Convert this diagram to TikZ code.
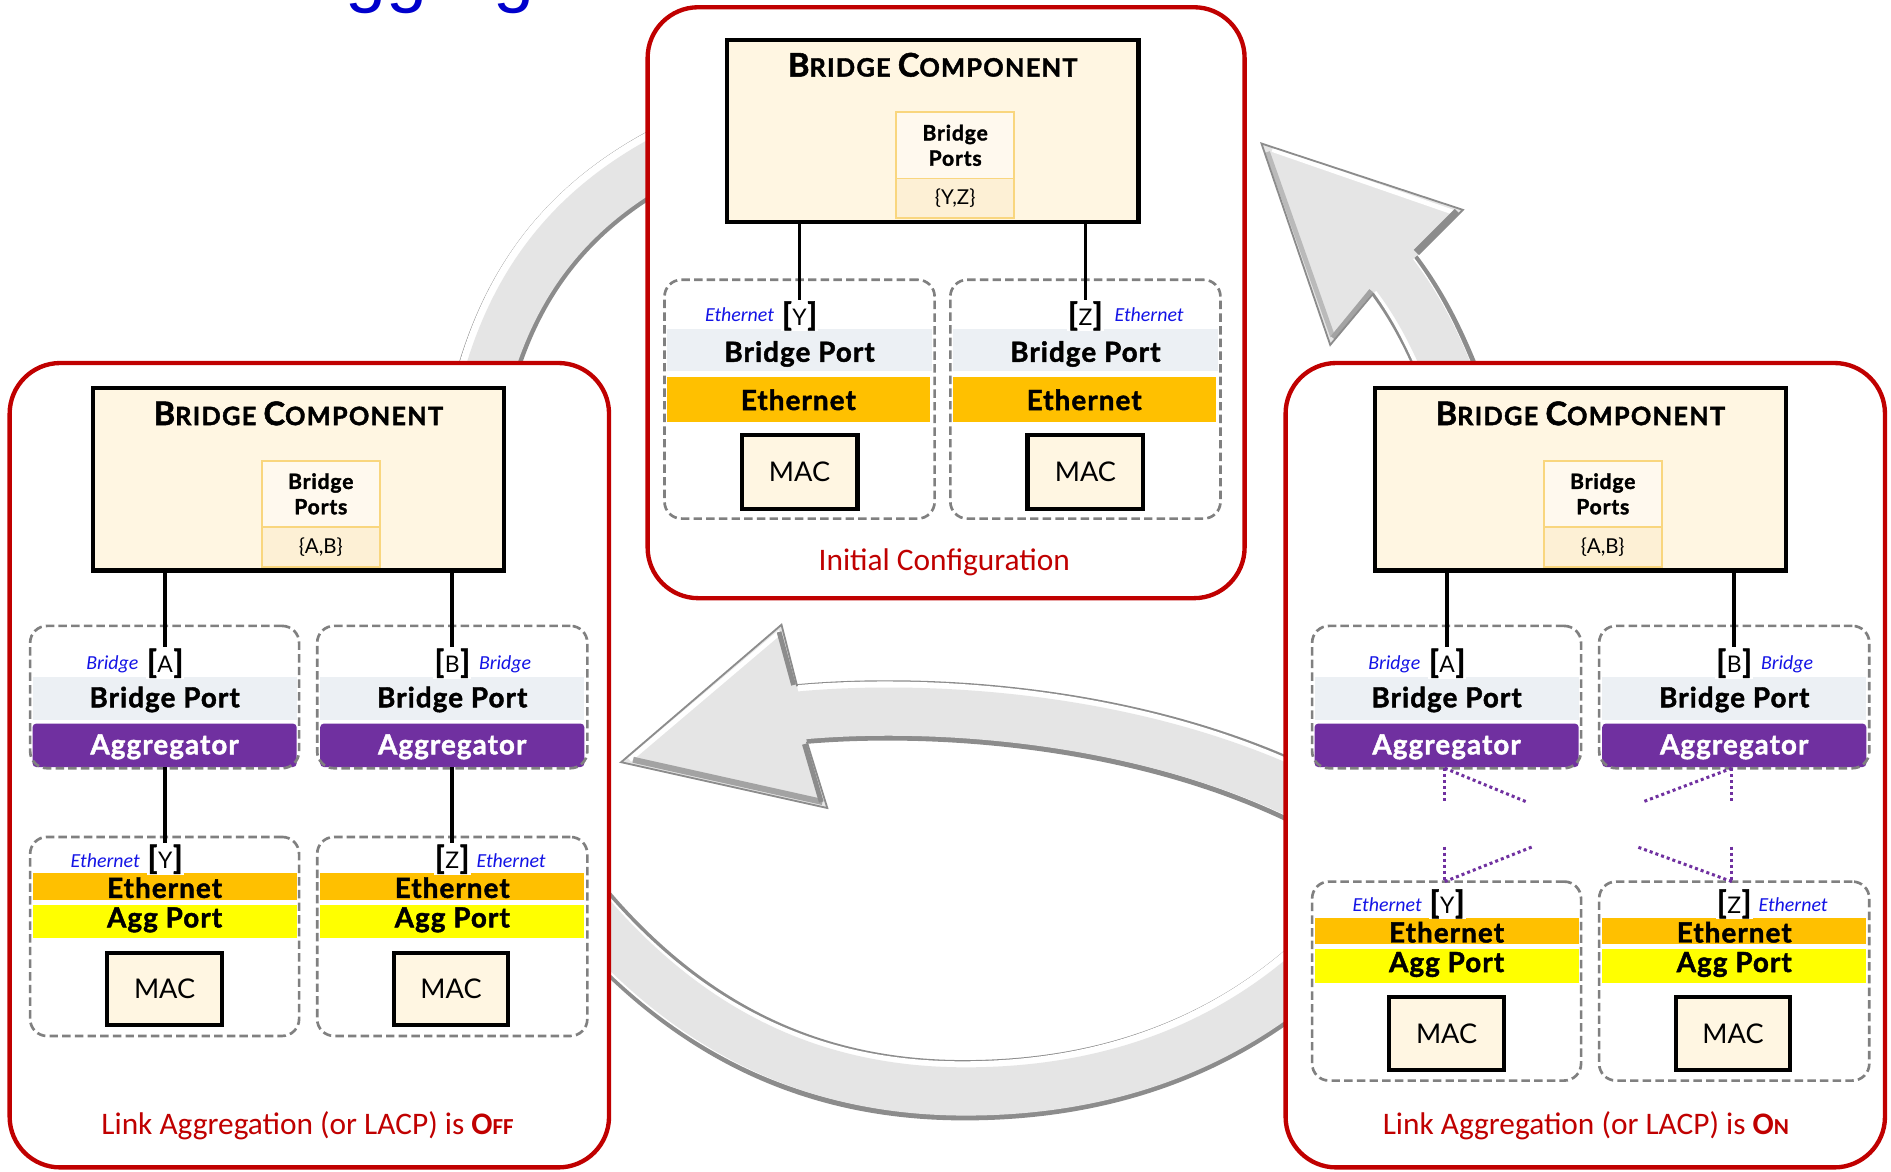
\documentclass[tikz,border=0pt]{standalone}
\usepackage{fontspec}
\setmainfont{Lato}
\newfontfamily\heavy{Lato}[BoldFeatures={FakeBold=1.6}, LetterSpace=4]
\newfontfamily\heavytitle{Lato}[BoldFeatures={FakeBold=1.6}, LetterSpace=5]
\newfontfamily\calib{Carlito}
\newfontfamily\arialf{Liberation Sans}
\newcommand{\fs}[1]{\fontsize{#1}{#1}\selectfont}
\definecolor{redpanel}{HTML}{C00000}
\definecolor{cream}{HTML}{FFF6E2}
\definecolor{portstop}{HTML}{FFF9EE}
\definecolor{portsbot}{HTML}{FDF0D5}
\definecolor{portsborder}{HTML}{F9D67E}
\definecolor{bpgray}{HTML}{ECF0F4}
\definecolor{ethorange}{HTML}{FFC000}
\definecolor{aggpurple}{HTML}{7030A0}
\definecolor{aggyellow}{HTML}{FFFF00}
\definecolor{lblblue}{HTML}{1414E6}
\definecolor{dashgray}{HTML}{808080}
\definecolor{arrowfill}{HTML}{E5E5E5}
\definecolor{bandedge}{HTML}{8C8C8C}
\definecolor{titleblue}{HTML}{0000CC}
\newcommand{\compname}{\heavytitle\bfseries{\fs{27}B}{\fs{21}RIDGE}\hspace{6pt}{\fs{27}C}{\fs{21}OMPONENT}}
\newcommand{\brkt}[1]{{\heavy\bfseries\fs{26}[}{\fs{19}\kern0.5pt#1\kern0.5pt}{\heavy\bfseries\fs{26}]}}
\tikzset{
  panel/.style={draw=redpanel, line width=3.6, fill=white, rounded corners=42, inner sep=0, outer sep=0},
  compbox/.style={draw=black, line width=3.5, fill=cream, minimum width=341, minimum height=151, inner sep=0},
  comptitle/.style={anchor=base, inner sep=0},
  ptop/.style={draw=portsborder, line width=1.5, fill=portstop, minimum width=98, minimum height=55, inner sep=0, align=center, font=\heavy\bfseries\fontsize{17.5}{21}\selectfont},
  pbot/.style={draw=portsborder, line width=1.5, fill=portsbot, minimum width=98, minimum height=33, inner sep=0, font=\fs{17}},
  dashbox/.style={draw=dashgray, line width=2.2, dash pattern=on 7 off 3.5, rounded corners=14, inner sep=0},
  bandbase/.style={inner sep=0, minimum width=219},
  bpband/.style={bandbase, fill=bpgray, minimum height=36},
  aggband/.style={bandbase, fill=aggpurple, minimum height=36, rounded corners=3},
  ethband/.style={bandbase, fill=ethorange, minimum height=22},
  apband/.style={bandbase, fill=aggyellow, minimum height=28},
  bandtxt/.style={anchor=base, inner sep=0, font=\heavy\bfseries\fs{23}},
  macbox/.style={draw=black, line width=3.5, fill=cream, minimum width=95, minimum height=60, inner sep=0, font=\fs{22.5}},
  brk/.style={anchor=base, fill=white, inner sep=0.8},
  bluelbl/.style={inner sep=0, text=lblblue, font=\calib\itshape\fs{16.5}},
  conn/.style={draw=black, line width=3},
  aggdot/.style={draw=aggpurple, line width=2.5, dash pattern=on 2.5 off 2.5},
  capstyle/.style={anchor=base, inner sep=0, text=redpanel, font=\calib\fs{26}},
}
\newcommand{\bevelband}[1]{%
  \draw[draw=bandedge, line width=50] #1;
  \draw[draw=white, line width=44, shift={(-2,-2)}] #1;
  \draw[draw=arrowfill, line width=40, shift={(1,1)}] #1;
}
% bridge component block, in left-panel coordinates
\newcommand{\compblock}[2]{%
  \node[compbox] (#1-comp) at (247.5,397.5) {};
  \node[comptitle] (#1-title) at (247.5,352.5) {\compname};
  \node[ptop] (#1-ptop) at (266,409.5) {Bridge\\Ports};
  \node[pbot] (#1-pbot) at (266,453.5) {#2};
}
\newcommand{\upperports}[1]{%
  \node[bpband] (#1-bpA) at (136.5,579) {};
  \node[aggband] (#1-agA) at (136.5,618) {};
  \node[bpband] (#1-bpB) at (375,579) {};
  \node[aggband] (#1-agB) at (375,618) {};
  \node[dashbox, minimum width=223, minimum height=118] (#1-ubA) at (136.5,578) {};
  \node[dashbox, minimum width=224, minimum height=118] (#1-ubB) at (375,578) {};
  \node[bandtxt] (#1-bpAt) at (136.5,586.5) {Bridge Port};
  \node[bandtxt, text=white] (#1-agAt) at (136.5,625.5) {Aggregator};
  \node[bandtxt] (#1-bpBt) at (375,586.5) {Bridge Port};
  \node[bandtxt, text=white] (#1-agBt) at (375,625.5) {Aggregator};
  \node[brk] (#1-brA) at (137,558) {\brkt{A}};
  \node[brk] (#1-brB) at (375,558) {\brkt{B}};
  \node[bluelbl, anchor=base east] (#1-lblA) at (115,555.5) {Bridge};
  \node[bluelbl, anchor=base west] (#1-lblB) at (397,555.5) {Bridge};
  \draw[conn] (#1-comp.south -| #1-brA) -- (#1-brA);
  \draw[conn] (#1-comp.south -| #1-brB) -- (#1-brB);
}
\newcommand{\lowerports}[1]{%
  \node[ethband] (#1-ethA) at (136.5,735) {};
  \node[apband] (#1-apA) at (136.5,764) {};
  \node[ethband] (#1-ethB) at (375,735) {};
  \node[apband] (#1-apB) at (375,764) {};
  \node[dashbox, minimum width=223, minimum height=165] (#1-lbA) at (136.5,776.5) {};
  \node[dashbox, minimum width=224, minimum height=165] (#1-lbB) at (375,776.5) {};
  \node[brk] (#1-brY) at (137,720.5) {\brkt{Y}};
  \node[brk] (#1-brZ) at (375,720.5) {\brkt{Z}};
  \node[bandtxt] (#1-ethAt) at (136.5,744.5) {Ethernet};
  \node[bandtxt] (#1-apAt) at (136.5,769) {Agg Port};
  \node[bandtxt] (#1-ethBt) at (375,744.5) {Ethernet};
  \node[bandtxt] (#1-apBt) at (375,769) {Agg Port};
  \node[macbox] (#1-macA) at (136.5,820) {MAC};
  \node[macbox] (#1-macB) at (374,820) {MAC};
  \node[bluelbl, anchor=base east] (#1-lblY) at (116,719) {Ethernet};
  \node[bluelbl, anchor=base west] (#1-lblZ) at (395,719) {Ethernet};
}
\begin{document}
\begin{tikzpicture}[x=1pt,y=-1pt]
\useasboundingbox (0,0) rectangle (1568,971);
\clip (0,0) rectangle (1568,971);

% heading fragment, cut by the top edge as in the reference
\node[anchor=base west, inner sep=0, text=titleblue, font=\arialf\fs{61}] (heading) at (246,-1) {Aggregation};

% grey cycle arrows
\bevelband{(395,345) .. controls (415,250) and (460,175) .. (560,125)}
\bevelband{(455,715) .. controls (560,860) and (680,905) .. (804,904) .. controls (930,903) and (1035,860) .. (1115,775)}
\bevelband{(655,593) .. controls (760,582) and (950,590) .. (1100,670)}
\bevelband{(1235,400) .. controls (1205,320) and (1190,270) .. (1150,220)}
% arrowhead (middle, pointing left)
\fill[arrowfill] (515,632) -- (648,518) -- (661,569) -- (669,615) -- (686,670) -- cycle;
\draw[white, line width=4] (522,630) -- (647,524);
\draw[bandedge!80, line width=5] (525,630) -- (682,665);
\draw[bandedge, line width=4] (646,524) -- (658,568);
\draw[bandedge, line width=4] (667,617) -- (681,665);
\draw[draw=bandedge, line width=1.5, line join=miter] (661,569) -- (648,518) -- (515,632) -- (686,670) -- (669,615);
% arrowhead (top right, pointing up-left)
\fill[arrowfill] (1046,119) -- (1213,174) -- (1176,211) -- (1139,243) -- (1103,286) -- cycle;
\draw[white, line width=4] (1055,124) -- (1205,176);
\draw[bandedge!60, line width=4] (1051,126) -- (1105,279);
\draw[bandedge, line width=5] (1208,175) -- (1174,209);
\draw[bandedge!80, line width=4] (1137,241) -- (1105,280);
\draw[draw=bandedge, line width=1.5, line join=miter] (1176,211) -- (1213,174) -- (1046,119) -- (1103,286) -- (1139,243);

% panels
\node[panel, minimum width=497, minimum height=667, anchor=north west] (Lpanel) at (8,301) {};
\node[panel, minimum width=497, minimum height=667, anchor=north west] (Rpanel) at (1066,301) {};
\node[panel, minimum width=495, minimum height=490, anchor=north west] (Tpanel) at (537,6) {};

% ---- left panel: LACP off
\compblock{L}{\{A,B\}}
\upperports{L}
\lowerports{L}
\draw[conn] (L-agA.south -| L-brY) -- (L-brY);
\draw[conn] (L-agB.south -| L-brZ) -- (L-brZ);
\node[capstyle] (L-cap) at (255,941) {Link Aggregation (or LACP) is {\bfseries\fs{26}O\fs{19}FF}};

% ---- right panel: LACP on
\begin{scope}[shift={(1063,0)}]
  \compblock{R}{\{A,B\}}
  \upperports{R}
  \begin{scope}[shift={(0,37)}]
    \lowerports{R}
  \end{scope}
  \coordinate (R-a1) at (135,637); \coordinate (R-a2) at (135,665); \coordinate (R-a3) at (203,665);
  \coordinate (R-b1) at (135,702); \coordinate (R-b2) at (135,731); \coordinate (R-b3) at (208,702);
  \coordinate (R-c1) at (373,637); \coordinate (R-c2) at (373,665); \coordinate (R-c3) at (299,665);
  \coordinate (R-d1) at (373,702); \coordinate (R-d2) at (373,731); \coordinate (R-d3) at (294,702);
  \draw[aggdot] (R-a1) -- (R-a2);
  \draw[aggdot] (R-a1) -- (R-a3);
  \draw[aggdot] (R-b1) -- (R-b2);
  \draw[aggdot] (R-b2) -- (R-b3);
  \draw[aggdot] (R-c1) -- (R-c2);
  \draw[aggdot] (R-c1) -- (R-c3);
  \draw[aggdot] (R-d1) -- (R-d2);
  \draw[aggdot] (R-d2) -- (R-d3);
  \node[capstyle] (R-cap) at (252,941) {Link Aggregation (or LACP) is {\bfseries\fs{26}O\fs{19}N}};
\end{scope}

% ---- top panel: initial configuration
\begin{scope}[shift={(526,-289)}]
  \compblock{T}{\{Y,Z\}}
\end{scope}
\node[bpband, minimum width=220, minimum height=35] (T-bpY) at (663,290.5) {};
\node[bpband, minimum width=220, minimum height=35] (T-bpZ) at (900,290.5) {};
\node[ethband, minimum width=218, minimum height=37] (T-ethY) at (662,331.5) {};
\node[ethband, minimum width=218, minimum height=37] (T-ethZ) at (899,331.5) {};
\node[dashbox, minimum width=224, minimum height=198] (T-pbY) at (663,331) {};
\node[dashbox, minimum width=224, minimum height=198] (T-pbZ) at (900,331) {};
\node[bandtxt] (T-bpYt) at (663,300) {Bridge Port};
\node[bandtxt] (T-bpZt) at (900,300) {Bridge Port};
\node[bandtxt] (T-ethYt) at (662,340) {Ethernet};
\node[bandtxt] (T-ethZt) at (899,340) {Ethernet};
\node[macbox, minimum width=96, minimum height=61] (T-macY) at (663,391.5) {MAC};
\node[macbox, minimum width=96, minimum height=61] (T-macZ) at (900,391.5) {MAC};
\node[brk] (T-brY) at (663,270) {\brkt{Y}};
\node[brk] (T-brZ) at (900,270) {\brkt{Z}};
\node[bluelbl, anchor=base east] (T-lblY) at (642,266.5) {Ethernet};
\node[bluelbl, anchor=base west] (T-lblZ) at (924,266.5) {Ethernet};
\draw[conn] (T-comp.south -| T-brY) -- (T-brY);
\draw[conn] (T-comp.south -| T-brZ) -- (T-brZ);
\node[capstyle] (T-cap) at (783,473) {Initial Configuration};
\end{tikzpicture}
\end{document}
